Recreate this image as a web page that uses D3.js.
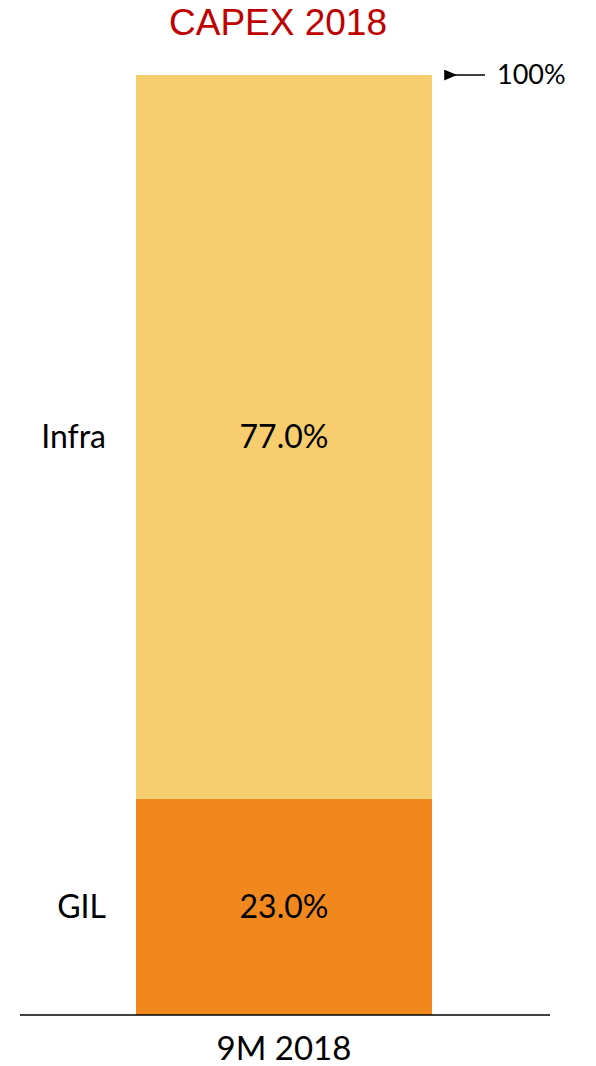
<!DOCTYPE html>
<html>
<head>
<meta charset="utf-8">
<script src="https://cdn.jsdelivr.net/npm/d3@7"></script>
<style>
  body { margin: 0; background: #fff; }
  svg text { font-family: Lato, "Open Sans", sans-serif; fill: #000; }
</style>
</head>
<body>
<svg id="chart" width="596" height="1066"></svg>
<script>
// data
const categories = ["9M 2018"];
const segments = ["GIL", "Infra"];
const values = [23.0, 77.0];
const colors = ["#F0881E", "#F8CD6E"];
const totalLabel = "100%";
const title = "CAPEX 2018";

const svg = d3.select("#chart");

const x = d3.scaleBand().domain(categories).range([136, 432]).padding(0);
const y = d3.scaleLinear().domain([0, 100]).range([1015, 75]);

// stack the segments
let acc = 0;
const stacked = segments.map((s, i) => {
    const d = {name: s, value: values[i], y0: acc, y1: acc + values[i], color: colors[i]};
    acc += values[i];
    return d;
});

svg.append("text")
    .attr("x", 278)
    .attr("y", 35)
    .attr("text-anchor", "middle")
    .style("font-family", "'Liberation Sans', Arial, sans-serif")
    .style("font-size", "37px")
    .style("fill", "#C00000")
    .text(title);

const bars = svg.append("g");
bars.selectAll("rect")
    .data(stacked)
    .enter()
    .append("rect")
    .attr("x", x(categories[0]))
    .attr("width", x.bandwidth())
    .attr("y", d => y(d.y1))
    .attr("height", d => y(d.y0) - y(d.y1))
    .attr("fill", d => d.color);

bars.selectAll(".val")
    .data(stacked)
    .enter()
    .append("text")
    .attr("class", "val")
    .attr("x", x(categories[0]) + x.bandwidth() / 2)
    .attr("y", d => y((d.y0 + d.y1) / 2))
    .attr("dy", "0.35em")
    .attr("text-anchor", "middle")
    .style("font-size", "32px")
    .text(d => d.value.toFixed(1) + "%");

bars.selectAll(".seg")
    .data(stacked)
    .enter()
    .append("text")
    .attr("class", "seg")
    .attr("x", 106)
    .attr("y", d => y((d.y0 + d.y1) / 2))
    .attr("dy", "0.35em")
    .attr("text-anchor", "end")
    .style("font-size", "32px")
    .text(d => d.name);

// baseline axis
const xAxis = svg.append("g")
    .attr("transform", `translate(0,${y(0)})`)
    .call(d3.axisBottom(x).tickSize(0).tickPadding(22));
xAxis.select(".domain").attr("stroke", "#000").attr("stroke-width", 1.5).attr("d", "M20,0H550");
xAxis.selectAll("text")
    .style("font-family", "Lato, 'Open Sans', sans-serif")
    .style("font-size", "33px")
    .attr("fill", "#000");

// 100% arrow
svg.append("defs").append("marker")
    .attr("id", "arrowhead")
    .attr("viewBox", "0 -5 12 10")
    .attr("refX", 2)
    .attr("refY", 0)
    .attr("markerUnits", "userSpaceOnUse")
    .attr("markerWidth", 13)
    .attr("markerHeight", 11)
    .attr("orient", "auto")
    .append("path")
    .attr("d", "M12,-5L0,0L12,5Z")
    .attr("fill", "#000");

svg.append("line")
    .attr("x1", 485).attr("x2", 455)
    .attr("y1", y(100)).attr("y2", y(100))
    .attr("stroke", "#000")
    .attr("stroke-width", 1.5)
    .attr("marker-end", "url(#arrowhead)");

svg.append("text")
    .attr("x", 497)
    .attr("y", y(100))
    .attr("dy", "0.35em")
    .style("font-size", "27px")
    .text(totalLabel);
</script>
</body>
</html>
